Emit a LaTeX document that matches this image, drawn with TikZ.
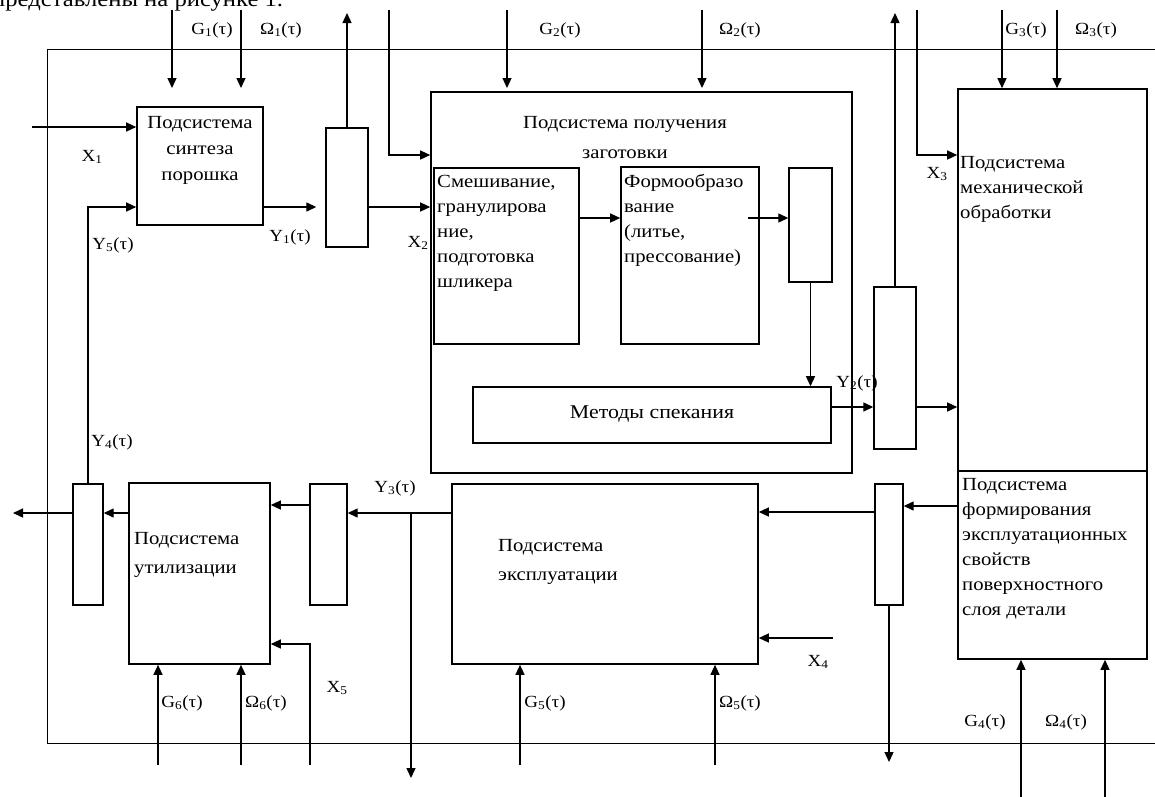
\documentclass[tikz,border=0pt]{standalone}
\usepackage{fontspec}
\setmainfont{Liberation Serif}[FakeStretch=1.12]
\usetikzlibrary{arrows.meta,calc}
\newcommand{\sbs}[1]{\textsubscript{#1}}
\begin{document}
\begin{tikzpicture}[x=1pt,y=-1pt,
  box/.style={draw, line width=1.6pt, inner sep=0pt},
  sepbox/.style={draw, line width=1.4pt, inner sep=0pt},
  conn/.style={line width=1.3pt, -{Triangle[length=10pt,width=9pt]}},
  plain/.style={line width=1.3pt},
  frameline/.style={line width=1pt},
  lbl/.style={inner sep=0pt, font=\fontsize{17}{20}\selectfont},
  txt/.style={inner sep=0pt, font=\fontsize{18.5}{25}\selectfont},
]
\useasboundingbox (0,0) rectangle (1155,796);
% clipped running text above the figure
\node[inner sep=0pt, anchor=base west, font=\fontsize{22}{26}\selectfont] (head) at (-8,6.5) {представлены на рисунке 1.};

% outer frame
\coordinate (fr1) at (1160,49);
\coordinate (fr2) at (47,49);
\coordinate (fr3) at (47,743);
\coordinate (fr4) at (1160,743);
\draw[frameline] (fr1) -- (fr2) -- (fr3) -- (fr4);

% boxes
\node[box, minimum width=126pt, minimum height=118pt] (S1) at (200,166) {};
\node[sepbox, minimum width=42pt, minimum height=119pt] (D1) at (347,187.5) {};
\node[box, minimum width=421pt, minimum height=381pt] (S2) at (641.5,282.5) {};
\node[box, minimum width=145pt, minimum height=176pt] (M1) at (506.5,256) {};
\node[box, minimum width=138pt, minimum height=177pt] (F1) at (690,255.5) {};
\node[sepbox, minimum width=43pt, minimum height=114pt] (D2) at (810.5,225) {};
\node[box, minimum width=358pt, minimum height=56pt] (MS) at (652,415) {};
\node[sepbox, minimum width=42pt, minimum height=162pt] (D3) at (895,368) {};
\node[box, minimum width=189pt, minimum height=570pt] (S3) at (1052.5,374) {};
\node[sepbox, minimum width=28pt, minimum height=121pt] (D4) at (889,544.5) {};
\node[box, minimum width=306pt, minimum height=180pt] (S5) at (605,574) {};
\node[sepbox, minimum width=37pt, minimum height=121pt] (D5) at (328.5,544.5) {};
\node[box, minimum width=141pt, minimum height=181pt] (S4) at (199.5,573.5) {};
\node[sepbox, minimum width=30pt, minimum height=121pt] (D6) at (88,544.5) {};
\draw[line width=1.6pt] (S3.west |- 0,471) -- (S3.east |- 0,471);

% box texts
\node[txt, anchor=base, font=\fontsize{18.5}{26}\selectfont] (S1t) at (200,128) {\parbox[t]{124pt}{\centering Подсистема\\синтеза\\порошка}};
\node[txt, anchor=base, font=\fontsize{18.5}{30}\selectfont] (S2t) at (625,128) {\parbox[t]{300pt}{\centering Подсистема получения\\заготовки}};
\node[txt, anchor=base west] (M1t) at (437,187) {\parbox[t]{150pt}{\raggedright Смешивание,\\гранулирова\\ние,\\подготовка\\шликера}};
\node[txt, anchor=base west] (F1t) at (624,187) {\parbox[t]{150pt}{\raggedright Формообразо\\вание\\(литье,\\прессование)}};
\node[txt, anchor=base, font=\fontsize{19.5}{25}\selectfont] (MSt) at (652,418) {Методы спекания};
\node[txt, anchor=base west] (S3t) at (960,168) {\parbox[t]{190pt}{\raggedright Подсистема\\механической\\обработки}};
\node[txt, anchor=base west] (S3b) at (962,490) {\parbox[t]{190pt}{\raggedright Подсистема\\формирования\\эксплуатационных\\свойств\\поверхностного\\слоя детали}};
\node[txt, anchor=base west, font=\fontsize{18.5}{29}\selectfont] (S5t) at (498,551) {\parbox[t]{200pt}{\raggedright Подсистема\\эксплуатации}};
\node[txt, anchor=base west, font=\fontsize{18.5}{29}\selectfont] (S4t) at (134,544) {\parbox[t]{140pt}{\raggedright Подсистема\\утилизации}};

% free ends
\coordinate (g1s) at (172,10);  \coordinate (g1e) at (172,88);
\coordinate (o1s) at (241,10);  \coordinate (o1e) at (241,88);
\coordinate (x1s) at (32,127);
\coordinate (d1up) at (347,13);
\coordinate (x2s) at (389,10);
\coordinate (g2s) at (507,10);  \coordinate (g2e) at (507,88);
\coordinate (o2s) at (702,10);  \coordinate (o2e) at (702,88);
\coordinate (d3up) at (895,13);
\coordinate (x3s) at (917,10);
\coordinate (g3s) at (1002,10);
\coordinate (o3s) at (1057,10);
\coordinate (g4s) at (1021,800);
\coordinate (o4s) at (1105,800);
\coordinate (d4dn) at (889,762);
\coordinate (x4s) at (833,638);
\coordinate (g5s) at (520,765);
\coordinate (o5s) at (715,765);
\coordinate (y3br) at (411,513);
\coordinate (y3dn) at (411,778);
\coordinate (x5s) at (310,765);
\coordinate (g6s) at (158,765);
\coordinate (o6s) at (241,765);
\coordinate (outl) at (13,513);

% connectors
\draw[conn] (g1s) -- (g1e);
\draw[conn] (o1s) -- (o1e);
\draw[conn] (x1s) -- (S1.west |- x1s);
\draw[conn] (D6.north) |- (S1.west |- 0,207);
\draw[conn, shorten >=9pt] (S1.east |- 0,207) -- (D1.west |- 0,207);
\draw[conn] (D1.north) -- (D1.north |- d1up);
\draw[conn] (D1.east |- 0,207) -- (S2.west |- 0,207);
\draw[conn] (x2s) |- (S2.west |- 0,155);
\draw[conn] (g2s) -- (g2e);
\draw[conn] (o2s) -- (o2e);
\draw[conn] (M1.east |- 0,218) -- (F1.west |- 0,218);
\draw[conn] ($(F1.east |- 0,218)+(-12,0)$) -- (D2.west |- 0,218);
\draw[conn] (D2.south) -- (MS.north -| D2.south);
\draw[conn] (MS.east |- 0,407) -- (D3.west |- 0,407);
\draw[conn] (D3.north) -- (D3.north |- d3up);
\draw[conn] (D3.east |- 0,407) -- (S3.west |- 0,407);
\draw[conn] (x3s) |- (S3.west |- 0,155);
\draw[conn] (g3s) -- (S3.north -| g3s);
\draw[conn] (o3s) -- (S3.north -| o3s);
\draw[conn] (g4s) -- (S3.south -| g4s);
\draw[conn] (o4s) -- (S3.south -| o4s);
\draw[conn] (S3.west |- 0,506) -- (D4.east |- 0,506);
\draw[conn] (D4.south) -- (d4dn);
\draw[conn] (D4.west |- 0,512) -- (S5.east |- 0,512);
\draw[conn] (x4s) -- (S5.east |- x4s);
\draw[conn] (g5s) -- (S5.south -| g5s);
\draw[conn] (o5s) -- (S5.south -| o5s);
\draw[conn] (S5.west |- 0,513) -- (D5.east |- 0,513);
\draw[conn] (y3br) -- (y3dn);
\draw[conn] (D5.west |- 0,505) -- (S4.east |- 0,505);
\draw[conn] (x5s) |- (S4.east |- 0,644);
\draw[conn] (g6s) -- (S4.south -| g6s);
\draw[conn] (o6s) -- (S4.south -| o6s);
\draw[conn] (S4.west |- 0,513) -- (D6.east |- 0,513);
\draw[conn] (D6.west |- 0,513) -- (outl);

% labels
\node[lbl] (lg1) at (212,30) {G\sbs{1}(τ)};
\node[lbl] (lo1) at (281,30) {Ω\sbs{1}(τ)};
\node[lbl] (lx1) at (92,157) {X\sbs{1}};
\node[lbl] (ly5) at (113,245) {Y\sbs{5}(τ)};
\node[lbl] (ly1) at (290,237) {Y\sbs{1}(τ)};
\node[lbl] (lx2) at (418,243) {X\sbs{2}};
\node[lbl] (lg2) at (560,30) {G\sbs{2}(τ)};
\node[lbl] (lo2) at (740,30) {Ω\sbs{2}(τ)};
\node[lbl] (ly2) at (857,383) {Y\sbs{2}(τ)};
\node[lbl] (lx3) at (937,174) {X\sbs{3}};
\node[lbl] (lg3) at (1026,30) {G\sbs{3}(τ)};
\node[lbl] (lo3) at (1096,30) {Ω\sbs{3}(τ)};
\node[lbl] (lg4) at (985,722) {G\sbs{4}(τ)};
\node[lbl] (lo4) at (1066,722) {Ω\sbs{4}(τ)};
\node[lbl] (lx4) at (818,662) {X\sbs{4}};
\node[lbl] (lg5) at (545,703) {G\sbs{5}(τ)};
\node[lbl] (lo5) at (740,703) {Ω\sbs{5}(τ)};
\node[lbl] (ly3) at (395,488) {Y\sbs{3}(τ)};
\node[lbl] (lx5) at (337,688) {X\sbs{5}};
\node[lbl] (lg6) at (182,703) {G\sbs{6}(τ)};
\node[lbl] (lo6) at (266,703) {Ω\sbs{6}(τ)};
\node[lbl] (ly4) at (112,442) {Y\sbs{4}(τ)};
\end{tikzpicture}
\end{document}
